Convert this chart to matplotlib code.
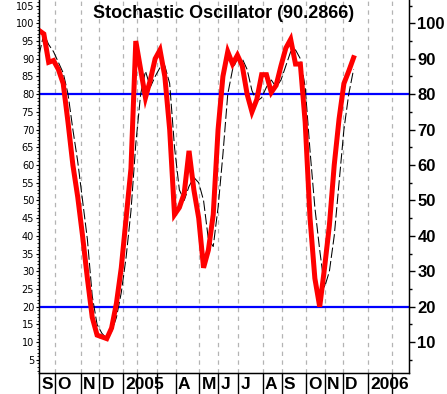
import matplotlib
matplotlib.use("Agg")
import matplotlib.pyplot as plt
from matplotlib.ticker import MultipleLocator, FixedLocator, NullFormatter
from matplotlib.transforms import blended_transform_factory

# valores semanales (semana 0 = inicio de sep 2004)
k_line = [98, 97, 89, 89.5, 87, 83, 72, 60, 51, 40, 28, 17, 12, 11.5, 11, 14,
          21, 31, 45, 59, 95, 87, 79, 84, 90, 92.5, 85, 70, 46, 48, 52, 64,
          53, 45, 31, 36, 46, 70, 85, 92, 88.5, 91, 88, 80, 75, 78.5, 85.5,
          85.5, 80.5, 82.5, 88, 93, 95.5, 88.5, 88.5, 72, 45, 28, 20, 31, 43,
          60, 73, 83, 86.5, 90.2866]
d_line = [91, 97, 94, 92, 89, 86, 80, 70, 61, 50, 39, 23, 15, 12.5, 11, 13,
          17, 24, 34, 47, 66, 80, 86.5, 82, 85, 87.5, 88, 83, 65, 53, 50, 54,
          56.5, 55, 50, 39, 37, 48, 63, 80, 87, 90, 90, 87, 81, 78, 79, 82,
          84, 82, 84, 88, 92, 92.5, 90, 82, 64, 48, 36, 25.5, 30, 40, 55, 70,
          80, 87]
weeks = list(range(len(k_line)))

# inicio de cada mes en semanas, y su etiqueta
month_starts = [0, 3.31, 8.62, 12.46, 17.42, 20.31, 24.32, 28.24, 33.12, 37.05,
                41.18, 46.22, 50.14, 55.10, 59.09, 62.87, 68.04, 73.0]
month_labels = ["S", "O", "N", "D", "2005", "", "", "A", "M", "J",
                "J", "A", "S", "O", "N", "D", "2006", ""]
upper, lower = 80, 20

fig = plt.figure(figsize=(4.47, 3.94), dpi=100)
ax = fig.add_axes([39/447, 21/394, 370/447, 373/394])
ax.set_xlim(0, 76.45)
ax.set_ylim(1.3, 106.58)

for m in month_starts[1:]:
    ax.axvline(m, color="#b4b4b4", lw=0.9, dashes=(3.5, 3.5), zorder=1)
ax.axhline(upper, color="#0000ff", lw=1.6, zorder=2)
ax.axhline(lower, color="#0000ff", lw=1.6, zorder=2)

ax.plot(weeks, d_line, color="black", lw=0.75, dashes=(10, 3), zorder=3)
ax.plot(weeks, k_line, color="#ff0000", lw=3.6, zorder=4,
        solid_joinstyle="miter")

ax.text(0.5, 1 - 13/373, "Stochastic Oscillator (%.4f)" % k_line[-1],
        transform=ax.transAxes, ha="center", va="center",
        family="Liberation Sans", fontsize=13, fontweight="bold")

ax.spines["top"].set_visible(False)
for s in ["left", "right", "bottom"]:
    ax.spines[s].set_linewidth(1.0)

# eje izquierdo
ax.yaxis.set_major_locator(MultipleLocator(5))
ax.yaxis.set_minor_locator(MultipleLocator(1))
ax.tick_params(axis="y", which="major", length=2.5, width=0.8, pad=1,
               labelsize=7)
ax.tick_params(axis="y", which="minor", length=1.5, width=0.6)
for lab in ax.get_yticklabels():
    lab.set_family("DejaVu Sans")

# eje derecho
ax2 = ax.twinx()
ax2.set_ylim(ax.get_ylim())
ax2.spines["top"].set_visible(False)
ax2.yaxis.set_major_locator(FixedLocator(range(10, 101, 10)))
ax2.yaxis.set_minor_locator(FixedLocator(range(5, 106, 10)))
ax2.tick_params(axis="y", which="major", length=4.5, width=1.0, pad=1.5)
ax2.tick_params(axis="y", which="minor", length=2.5, width=1.0)
for lab in ax2.get_yticklabels():
    lab.set_family("Liberation Sans")
    lab.set_fontweight("bold")
    lab.set_fontsize(12)

# eje inferior: separadores de mes y etiquetas
ax.xaxis.set_major_locator(FixedLocator(month_starts))
ax.xaxis.set_major_formatter(NullFormatter())
ax.tick_params(axis="x", which="major", length=15, width=1.0, direction="out")
trans = blended_transform_factory(ax.transData, ax.transAxes)
for m, lab in zip(month_starts, month_labels):
    if lab:
        ax.annotate(lab, xy=(m, 0), xycoords=trans, xytext=(1.5, -3),
                    textcoords="offset points", ha="left", va="top",
                    family="Liberation Sans", fontsize=12.5, fontweight="bold")

fig.savefig("out.png", dpi=100)
